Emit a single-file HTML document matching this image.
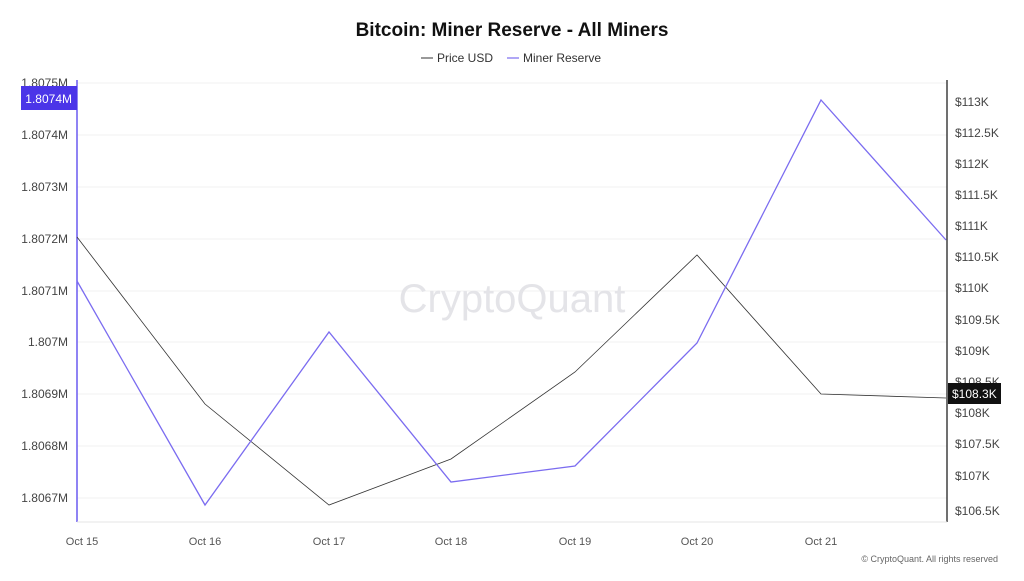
<!DOCTYPE html>
<html><head><style>
body{margin:0;background:#fff;font-family:"Liberation Sans",sans-serif;}
</style></head><body>
<svg width="1024" height="576" xmlns="http://www.w3.org/2000/svg" font-family="Liberation Sans, sans-serif">
<rect width="1024" height="576" fill="#fff"/>
<text x="512" y="36" text-anchor="middle" font-size="19" font-weight="bold" fill="#111">Bitcoin: Miner Reserve - All Miners</text>
<line x1="421" y1="58" x2="433" y2="58" stroke="#333" stroke-width="1"/>
<text x="437" y="62" font-size="12" fill="#333">Price USD</text>
<line x1="507" y1="58" x2="519" y2="58" stroke="#7b6cf0" stroke-width="1.2"/>
<text x="523" y="62" font-size="12" fill="#333">Miner Reserve</text>
<g stroke="#f2f2f2" stroke-width="1">
<line x1="77" y1="83" x2="947" y2="83"/><line x1="77" y1="135" x2="947" y2="135"/><line x1="77" y1="187" x2="947" y2="187"/><line x1="77" y1="239" x2="947" y2="239"/><line x1="77" y1="291" x2="947" y2="291"/><line x1="77" y1="342" x2="947" y2="342"/><line x1="77" y1="394" x2="947" y2="394"/><line x1="77" y1="446" x2="947" y2="446"/><line x1="77" y1="498" x2="947" y2="498"/>
</g>
<text x="512" y="312" text-anchor="middle" font-size="40" fill="#e4e4e8">CryptoQuant</text>
<line x1="77" y1="80" x2="77" y2="522" stroke="#6a5af0" stroke-width="1.5"/>
<line x1="947" y1="80" x2="947" y2="522" stroke="#111" stroke-width="1.2"/>
<line x1="77" y1="522" x2="947" y2="522" stroke="#e6e6e6"/>
<g font-size="12" fill="#444" text-anchor="end">
<text x="68" y="87">1.8075M</text><text x="68" y="139">1.8074M</text><text x="68" y="191">1.8073M</text><text x="68" y="243">1.8072M</text><text x="68" y="295">1.8071M</text><text x="68" y="346">1.807M</text><text x="68" y="398">1.8069M</text><text x="68" y="450">1.8068M</text><text x="68" y="502">1.8067M</text>
</g>
<rect x="21" y="86" width="56" height="24" fill="#4b35e8"/>
<text x="72" y="103" text-anchor="end" font-size="12" fill="#fff">1.8074M</text>
<g font-size="12" fill="#444">
<text x="955" y="106">$113K</text><text x="955" y="137">$112.5K</text><text x="955" y="168">$112K</text><text x="955" y="199">$111.5K</text><text x="955" y="230">$111K</text><text x="955" y="261">$110.5K</text><text x="955" y="292">$110K</text><text x="955" y="324">$109.5K</text><text x="955" y="355">$109K</text><text x="955" y="386">$108.5K</text><text x="955" y="417">$108K</text><text x="955" y="448">$107.5K</text><text x="955" y="480">$107K</text><text x="955" y="515">$106.5K</text>
</g>
<rect x="948" y="383" width="53" height="21" fill="#111"/>
<text x="952" y="398" font-size="12" fill="#fff">$108.3K</text>
<g font-size="11" fill="#555" text-anchor="middle">
<text x="82" y="545">Oct 15</text><text x="205" y="545">Oct 16</text><text x="329" y="545">Oct 17</text><text x="451" y="545">Oct 18</text><text x="575" y="545">Oct 19</text><text x="697" y="545">Oct 20</text><text x="821" y="545">Oct 21</text>
</g>
<polyline fill="none" stroke="#333" stroke-width="0.8" points="77,237 205,404 329,505 451,459 575,372 697,255 821,394 946,398"/>
<polyline fill="none" stroke="#7b6cf0" stroke-width="1.3" points="77,281 205,505 329,332 451,482 575,466 697,343 821,100 946,240"/>
<text x="998" y="562" text-anchor="end" font-size="9" fill="#666">© CryptoQuant. All rights reserved</text>
</svg>
</body></html>
